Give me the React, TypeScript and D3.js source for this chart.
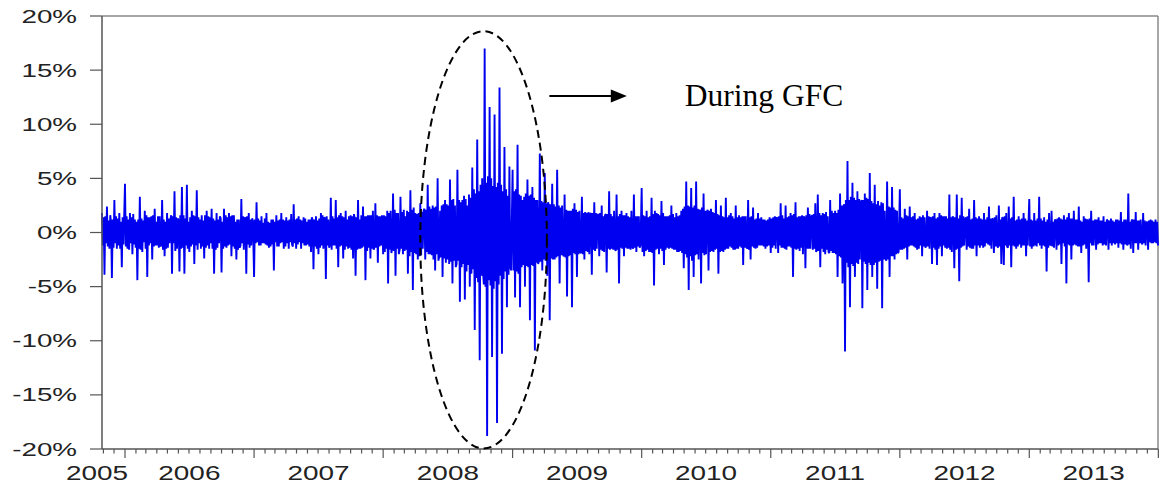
import React, { useEffect, useRef } from 'react';
import * as d3 from 'd3';

// weekly returns (%), one array per calendar year
const ret2005 = [1.8, -3.9, 2.4, -1.5, -4.2, 3.0, -1.5, 1.8, -3.2];
const ret2006 = [4.5, -1.5, 1.8, -2.0, 1.2, -4.4, 3.3, -1.8, 2.0, -4.1, 1.4, -2.5, 2.2, -1.2, 1.5, 3.0, -2.2, 1.8, -1.0, -3.8,
  3.8, -1.5, -3.6, 4.2, -3.8, 4.4, -1.8, 2.0, -2.9, 3.9, -1.0, 1.6, -2.4, 2.0, -1.5, 2.2, -3.8, 1.8, -1.0, -3.7,
  2.2, -1.4, 1.8, -2.2, 1.6, -2.5, 1.2, 3.1, -1.6, -3.8, 1.8, -1.2];
const ret2007 = [-4.1, 2.8, -1.2, 1.5, -1.0, 1.8, -1.4, 1.2, -3.5, 1.6, -1.3, 1.8, -1.5, 1.4, -1.5, 1.7, 2.6, -1.5, 1.5, -1.5,
  1.4, -1.2, 1.2, -1.8, -3.4, 1.5, -2.0, 1.8, -1.5, -4.3, 1.2, 3.2, -1.2, 3.0, -3.2, 1.8, -2.4, 2.0, -1.5, 1.6,
  -2.4, -4.0, 3.0, -1.5, 2.4, -4.4, 1.6, -2.4, 2.0, 2.7, -2.8, 1.5];
const ret2008 = [-2.0, 1.5, -4.7, 2.0, 3.6, -4.0, 1.8, 3.3, -2.0, 1.5, -3.8, 3.9, -5.3, 1.8, -2.5, 2.7, -1.5, -2.5, 4.4, -2.0,
  2.5, -3.5, 5.0, 2.0, -4.1, 3.0, -2.5, 4.9, -4.7, 2.5, 5.8, -6.4, 3.0, -6.2, 2.5, -5.0, 6.0, -9.0, 8.6, -11.8,
  5.0, 17.0, -18.8, 11.6, -11.5, 10.9, -17.6, 13.4, -11.2, 7.9, -6.9, 6.1];
const ret2009 = [5.8, -6.0, 8.1, -6.9, 3.0, -5.0, 4.9, -8.1, 4.2, -10.9, 3.0, 7.3, -3.5, 5.5, -4.0, -8.1, 4.5, -2.5, 5.8, -4.7,
  2.5, 3.5, -5.9, 2.0, -6.9, 2.7, -4.1, 2.0, 3.3, -2.5, 1.8, -2.0, -3.9, 2.8, -1.5, -2.2, 2.5, -1.8, -3.7, 3.8,
  -1.5, 2.0, 3.5, -4.7, 2.0, -2.2, 1.8, -1.5, 2.0, 3.5, -1.8, 1.5];
const ret2010 = [4.1, -2.2, 2.0, -1.8, 3.2, -4.9, 1.8, -2.0, 2.9, -3.0, 1.5, -1.5, 2.5, -1.6, 1.8, -1.8, 2.0, -3.3, 4.7, -5.3,
  4.1, -4.1, 4.7, -2.5, -4.7, 3.6, -2.0, -3.5, 2.2, -1.8, 3.0, -3.8, 2.5, -1.8, 3.2, -1.5, 1.8, -1.6, 2.5, -1.5,
  1.4, -3.0, 1.5, 3.0, -2.5, 2.3, -1.5, 1.8, -1.2, 1.2, -1.5, 1.2];
const ret2011 = [-1.9, 1.4, -1.5, -1.9, 2.7, -1.4, 2.5, -1.3, 1.8, -4.1, 2.8, -1.5, 1.5, -2.0, -3.3, 2.3, -1.5, -1.6, 2.7, 3.5,
  -3.2, 1.8, -2.0, 1.5, 3.0, -1.9, 2.0, -4.1, 3.6, -4.7, -11.0, 6.6, -6.9, 4.6, -4.1, 3.8, -2.5, -7.0, 3.6, -5.3,
  5.5, -4.1, 4.4, -5.2, 2.5, -7.0, 2.0, 4.7, -4.1, 4.2, -2.5, 2.0];
const ret2012 = [4.0, -1.6, 2.2, -2.5, 2.4, -1.2, 1.8, -1.6, 1.5, -2.2, 1.4, 2.0, -1.5, -2.9, 1.8, -3.0, 1.8, -2.2, 1.5, -1.5,
  3.5, -1.8, -3.3, 3.5, -4.5, 3.2, -1.2, -1.6, 2.2, -1.5, 3.0, -2.2, 1.5, -1.2, 1.8, -1.0, 2.4, -1.5, -1.9, 1.6,
  2.5, -2.9, -3.0, 1.8, 2.4, -3.2, 3.3, -1.5, 1.5, -1.4, 1.8, -2.2];
const ret2013 = [3.1, -1.5, 1.8, -1.3, 3.3, -1.5, 1.4, -3.6, 1.8, 2.0, -1.4, -1.6, 1.4, -2.9, 1.6, -4.7, 1.8, -2.5, 2.0, -1.2,
  2.4, -1.9, 1.5, -1.5, -4.6, 2.0, -1.2, -1.6, 1.4, -1.0, 1.5, -1.2, -1.6, 1.3, -1.0, 1.2, -1.4, 1.9, -1.6, 1.2,
  3.6, -1.5, -1.9, 1.9, -1.6, 1.2, 1.8, -1.2, -1.6, 1.2, -1.0, 1.2, -1.2];

// the dense in-between moves that make the solid core band (two per week)
const core2005 = [-1.2, 1.4, 1.5, -1.0, -1.3, 1.1, 1.6, 0.9, 1.2, -1.4, -1.0, 1.5, 1.3, -1.2, -1.5, 1.0, 1.4, -1.1];
const core2006 = [-1.3, 1.5, 1.2, -1.6, -1.0, 1.4, 1.7, -1.1, -1.4, 1.0, 1.2, -1.5, -1.6, 1.3, 1.1, -0.9, -1.5, 1.6, 1.4, -1.2,
  -1.0, 1.5, 1.6, -1.3, -1.2, 1.0, 1.5, -1.4, -1.3, -1.1, -1.6, 1.2, 1.0, -1.5, -1.4, 1.3, 1.2, 1.6, 1.5, -1.0,
  -1.7, 1.4, 1.3, 1.1, 1.6, -1.5, -1.4, 1.6, 1.3, -1.2, -1.5, 1.0, 1.4, -1.3, -1.1, 1.6, 1.5, -1.2, -1.6, 1.4,
  1.2, -1.5, -1.3, 1.1, 1.6, -1.4, -1.2, 1.5, 1.4, -1.0, -1.5, 1.3, 1.1, -1.6, -1.4, 1.2, 1.5, 1.3, 1.0, -1.5,
  -1.3, 1.6, 1.4, -1.2, -1.1, 1.5, 1.6, -1.3, -1.5, 1.0, 1.2, -1.6, -1.4, -1.2, -1.0, 1.5, 1.3, 1.4, 1.5, -1.1,
  -1.4, 1.2, 1.3, 1.1];
const core2007 = [1.2, -1.0, -0.9, 1.3, 1.1, -1.2, -1.0, 0.9, 1.3, -1.1, -1.2, 1.0, 0.9, -1.3, -1.1, 1.2, 1.0, -0.9, -1.3, 1.1,
  1.2, -1.0, -0.9, 1.2, 1.1, -1.3, -1.0, 1.1, 1.2, -0.9, -1.1, -1.3, -1.0, 1.2, 1.3, -1.1, -0.9, 1.2, 1.1, -1.0,
  -1.2, 1.3, 1.0, -1.1, -1.3, 1.2, 1.4, 1.1, 1.2, -1.3, -1.5, 1.1, 1.3, -1.4, -1.2, 1.6, 1.4, 1.3, 1.5, -1.2,
  -1.4, -1.1, -1.6, 1.5, 1.3, -1.2, -1.5, 1.4, 1.6, -1.3, -1.2, 1.5, 1.4, -1.6, -1.3, 1.2, 1.5, -1.4, -1.6, 1.5,
  1.7, 1.3, 1.4, -1.6, -1.5, 1.2, 1.6, -1.4, -1.3, 1.5, 1.5, -1.7, -1.4, 1.6, 1.6, -1.5, -1.6, -1.3, -1.4, 1.6,
  1.5, -1.3, -1.2, 1.6];
const core2008 = [1.6, -1.8, -1.5, 2.0, 1.8, -1.6, -1.9, -1.4, -1.7, 2.1, 1.8, -1.5, -2.0, -1.6, -1.5, 1.9, 2.1, -1.7, -1.6, 2.0,
  1.9, -2.2, -1.8, 2.1, 2.3, -1.9, -2.0, 1.7, 1.8, -2.2, -2.1, 1.9, 2.0, 2.2, 2.1, -1.8, -2.0, 2.4, 2.2, -2.1,
  -2.5, 2.3, 2.4, -2.0, -2.6, -2.2, -2.3, 2.5, 2.6, -2.4, -2.8, 2.6, 2.5, -2.9, -2.7, 3.0, 3.1, -2.6, -3.2, -2.9,
  -2.6, 3.0, 2.8, -3.2, -2.9, 3.4, 3.1, -3.6, -3.0, 3.5, 3.2, -3.8, -3.4, 4.0, 3.6, -4.2, -4.6, 3.8, 4.4, -4.0,
  -3.6, -4.8, -5.0, 4.6, 5.2, -4.4, -4.9, 5.0, 4.3, -5.2, -4.5, 4.2, 4.6, -4.8, -4.0, 4.4, 3.8, -4.3, -3.6, 4.0,
  3.4, -3.9, -3.2, -3.5];
const core2009 = [-3.5, 3.8, 4.0, -3.6, -3.8, 3.5, 3.4, -3.2, -3.0, 3.3, 3.6, -3.1, -3.2, 3.4, 3.5, -3.0, -3.1, 3.2, 3.0, -2.8,
  -2.9, -2.6, -2.7, 2.9, 2.8, -2.5, -2.6, 2.7, 2.8, 2.5, 2.6, -2.4, -2.5, 2.6, 2.4, -2.3, -2.2, 2.5, 2.3, -2.1,
  -2.0, -2.2, -2.3, 2.1, 2.0, -2.2, -2.1, 2.0, 2.2, -1.9, -2.0, 2.1, 1.9, -2.0, -1.8, -1.9, -2.0, 1.8, 1.9, -1.7,
  -1.8, 1.9, 1.7, 1.8, 1.8, -1.6, -1.7, 1.8, 1.6, 1.7, 1.8, -1.6, -1.7, 1.5, 1.6, 1.7, 1.7, -1.5, -1.6, 1.7,
  1.5, -1.6, -1.5, -1.7, -1.6, 1.5, 1.7, -1.4, -1.5, 1.6, 1.6, -1.4, -1.5, 1.5, 1.4, -1.6, -1.3, -1.5, -1.4, 1.5,
  1.5, -1.3, -1.4, -1.2];
const core2010 = [-1.8, 1.6, 1.5, -1.7, -1.6, 1.4, 1.5, -1.8, -1.9, 1.7, 2.0, -1.6, -1.5, 1.7, 1.6, -1.5, -1.7, 1.8, 1.5, -1.6,
  -1.4, 1.5, 1.6, -1.4, -1.5, 1.7, 1.4, -1.6, -1.8, 1.5, 1.6, -1.7, -1.9, 2.2, 2.4, -2.0, -2.3, 2.5, 2.4, -2.2,
  -2.6, 2.3, 2.5, -2.1, -2.0, 2.2, 2.1, 2.0, 2.3, -1.9, -2.1, 2.0, 1.9, 2.1, 2.0, -1.8, -1.7, 1.9, 1.8, -1.6,
  -1.5, 1.7, 1.6, -1.8, -1.7, 1.5, 1.4, -1.6, -1.5, 1.4, 1.6, -1.3, -1.4, 1.5, 1.3, -1.6, -1.5, 1.4, 1.6, -1.3,
  -1.4, 1.5, 1.5, -1.4, -1.3, -1.5, -1.6, 1.4, 1.5, -1.3, -1.4, 1.2, 1.3, -1.4, -1.2, 1.3, 1.4, -1.2, -1.3, 1.2,
  1.1, -1.3, -1.2, 1.4];
const core2011 = [1.3, -1.4, -1.2, 1.5, 1.4, 1.3, 1.5, -1.2, -1.4, 1.6, 1.3, -1.5, -1.6, 1.4, 1.5, -1.3, -1.4, 1.6, 1.7, -1.5,
  -1.6, 1.4, 1.5, -1.7, -1.4, 1.6, 1.5, 1.3, 1.6, -1.5, -1.5, 1.7, 1.4, 1.6, 1.7, -1.5, -1.8, -1.6, -1.7, 1.8,
  1.6, -1.5, -1.8, 1.7, 1.9, -1.6, -1.8, -1.9, -1.7, 2.0, 1.8, -1.9, -2.0, 1.8, 2.1, -2.2, -2.3, 2.5, 2.4, 2.6,
  3.0, -2.8, -3.2, 3.0, 3.3, -2.9, -3.1, 3.2, 3.0, -2.8, -2.9, 3.1, 2.8, 3.0, 3.0, -2.7, -2.9, 3.2, 3.1, -2.8,
  -3.0, 2.9, 2.7, -3.0, -2.8, 2.6, 2.9, -2.7, -2.6, 2.8, 2.7, -2.5, -2.4, -2.6, -2.5, 2.4, 2.3, -2.2, -2.2, 2.3,
  2.1, -2.0, -1.9, -1.8];
const core2012 = [-1.6, 1.4, 1.3, -1.5, -1.4, 1.6, 1.5, -1.3, -1.2, 1.4, 1.5, -1.3, -1.4, 1.2, 1.3, -1.5, -1.2, 1.4, 1.6, -1.3,
  -1.4, -1.2, -1.3, 1.5, 1.4, 1.3, 1.5, -1.4, -1.6, 1.3, 1.4, -1.5, -1.3, 1.6, 1.5, -1.2, -1.4, 1.5, 1.3, -1.4,
  -1.6, 1.4, 1.5, 1.3, 1.4, -1.6, -1.5, 1.3, 1.6, -1.4, -1.3, 1.5, 1.2, 1.4, 1.5, -1.3, -1.4, 1.2, 1.3, -1.5,
  -1.2, 1.4, 1.3, -1.2, -1.4, 1.3, 1.2, -1.4, -1.3, 1.2, 1.4, -1.1, -1.2, 1.3, 1.3, 1.2, 1.4, -1.3, -1.2, -1.4,
  -1.3, 1.2, 1.4, 1.3, 1.5, -1.2, -1.3, -1.4, -1.2, 1.3, 1.4, -1.2, -1.3, 1.1, 1.2, -1.3, -1.1, 1.2, 1.3, -1.2,
  -1.2, 1.3, 1.1, -1.2];
const core2013 = [-1.3, 1.2, 1.1, -1.3, -1.2, 1.1, 1.3, -1.0, -1.2, 1.3, 1.1, -1.2, -1.3, 1.0, 1.2, -1.4, -1.1, -1.2, -1.3, 1.0,
  1.2, 1.1, 1.3, -1.2, -1.1, 1.3, 1.2, -1.0, -1.3, 1.2, 1.4, -1.1, -1.2, 1.3, 1.3, -1.2, -1.1, 1.2, 1.2, -1.3,
  -1.3, 1.1, 1.0, -1.2, -1.1, 1.3, 1.2, 1.1, 1.3, -1.0, -1.2, 1.1, 1.0, 1.2, 1.2, -1.1, -1.0, 1.1, 1.1, -1.2,
  -1.1, 1.0, 1.2, 1.1, 1.1, -1.0, -1.2, 1.1, 1.0, -1.1, -1.0, 1.2, 1.1, -1.0, -1.1, 1.0, 1.2, -1.1, -1.0, -1.2,
  -1.1, 1.0, 1.1, 1.2, 1.2, -1.0, -1.0, 1.1, 1.1, -1.0, -0.9, -1.1, -1.0, 1.1, 0.9, 1.0, 1.1, -0.9, -1.0, 1.1,
  1.0, -0.9, -1.0, 1.0];

const yearStarts = [new Date(2005, 9, 28), new Date(2006, 0, 1), new Date(2007, 0, 1), new Date(2008, 0, 1),
  new Date(2009, 0, 1), new Date(2010, 0, 1), new Date(2011, 0, 1), new Date(2012, 0, 1), new Date(2013, 0, 1)];
const yearValues = [ret2005, ret2006, ret2007, ret2008, ret2009, ret2010, ret2011, ret2012, ret2013];
const yearCore = [core2005, core2006, core2007, core2008, core2009, core2010, core2011, core2012, core2013];

const yTicks = [20, 15, 10, 5, 0, -5, -10, -15, -20];
const xLabels = ['2005', '2006', '2007', '2008', '2009', '2010', '2011', '2012', '2013'];
const xLabelDates = [new Date(2005, 9, 14), new Date(2006, 6, 2), new Date(2007, 6, 2), new Date(2008, 6, 2),
  new Date(2009, 6, 2), new Date(2010, 6, 2), new Date(2011, 6, 2), new Date(2012, 6, 2), new Date(2013, 6, 2)];

// annotation, in data units
const gfcDates = [new Date(2008, 3, 15), new Date(2009, 3, 8)];
const gfcRange = [-19.95, 18.6];
const arrowDates = [new Date(2009, 3, 15), new Date(2009, 10, 20)];
const arrowLevel = 12.6;
const annotationText = 'During GFC';

const DAY = 86400000;

export default function App() {
  const ref = useRef<SVGSVGElement | null>(null);

  useEffect(() => {
    document.body.style.margin = '0';
    const width = 1163;
    const height = 489;
    const m = { left: 102, right: 5, top: 16, bottom: 40 };

    const svg = d3.select(ref.current);
    svg.selectAll('*').remove();

    const x = d3.scaleTime()
      .domain([new Date(2005, 9, 28), new Date(2013, 11, 31)])
      .range([m.left, width - m.right]);
    const y = d3.scaleLinear().domain([-20, 20]).range([height - m.bottom, m.top]);

    // weekly value, then the two in-between readings of that week
    const points: { date: Date; value: number }[] = [];
    yearValues.forEach((vals, k) => {
      const s = yearStarts[k].getTime();
      const core = yearCore[k];
      vals.forEach((v, i) => {
        points.push({ date: new Date(s + 7 * i * DAY), value: v });
        if (core[2 * i] !== undefined) {
          points.push({ date: new Date(s + (7 * i + 2.33) * DAY), value: core[2 * i] });
          points.push({ date: new Date(s + (7 * i + 4.67) * DAY), value: core[2 * i + 1] });
        }
      });
    });

    const x0 = m.left, x1 = width - m.right, y0 = m.top, y1 = height - m.bottom;

    // frame (top & right light)
    svg.append('line').attr('x1', x0).attr('x2', x1).attr('y1', y0).attr('y2', y0)
      .attr('stroke', '#8a8a8a').attr('stroke-width', 1.5);
    svg.append('line').attr('x1', x1).attr('x2', x1).attr('y1', y0).attr('y2', y1)
      .attr('stroke', '#8a8a8a').attr('stroke-width', 1.5);

    // series
    const line = d3.line<{ date: Date; value: number }>()
      .x(d => x(d.date))
      .y(d => y(d.value));
    svg.append('path')
      .datum(points)
      .attr('d', line)
      .attr('fill', 'none')
      .attr('stroke', '#0000f0')
      .attr('stroke-width', 1.9)
      .attr('stroke-linejoin', 'bevel');

    // y axis
    svg.append('line').attr('x1', x0).attr('x2', x0).attr('y1', y0).attr('y2', y1)
      .attr('stroke', '#555').attr('stroke-width', 1.5);
    const yg = svg.append('g');
    yTicks.forEach(t => {
      yg.append('line').attr('x1', x0 - 12).attr('x2', x0).attr('y1', y(t)).attr('y2', y(t))
        .attr('stroke', '#555').attr('stroke-width', 1.2);
      yg.append('text')
        .attr('transform', `translate(${x0 - 25},${y(t) + 6.5}) scale(1.5,1)`)
        .attr('text-anchor', 'end')
        .attr('font-family', 'Liberation Sans, Arial, sans-serif')
        .attr('font-size', 18.5)
        .attr('fill', '#222')
        .text(`${t}%`);
    });

    // x axis
    svg.append('line').attr('x1', x0).attr('x2', x1).attr('y1', y1).attr('y2', y1)
      .attr('stroke', '#555').attr('stroke-width', 1.5);
    const xg = svg.append('g');
    d3.timeMonth.range(new Date(2005, 10, 1), new Date(2014, 0, 2)).forEach(d => {
      const major = d.getMonth() === 0;
      xg.append('line').attr('x1', x(d)).attr('x2', x(d)).attr('y1', y1).attr('y2', y1 + (major ? 9 : 4.5))
        .attr('stroke', '#555').attr('stroke-width', 1.2);
    });
    xLabels.forEach((lab, i) => {
      xg.append('text')
        .attr('transform', `translate(${x(xLabelDates[i])},${y1 + 31}) scale(1.33,1)`)
        .attr('text-anchor', 'middle')
        .attr('font-family', 'Liberation Sans, Arial, sans-serif')
        .attr('font-size', 21)
        .attr('fill', '#222')
        .text(lab);
    });

    // dashed ellipse around the crisis
    const ex0 = x(gfcDates[0]), ex1 = x(gfcDates[1]);
    const ey0 = y(gfcRange[1]), ey1 = y(gfcRange[0]);
    svg.append('ellipse')
      .attr('cx', (ex0 + ex1) / 2).attr('cy', (ey0 + ey1) / 2)
      .attr('rx', (ex1 - ex0) / 2).attr('ry', (ey1 - ey0) / 2)
      .attr('fill', 'none').attr('stroke', '#000').attr('stroke-width', 2)
      .attr('stroke-dasharray', '8 5');

    // arrow + text
    const ax0 = x(arrowDates[0]), ax1 = x(arrowDates[1]), ay = y(arrowLevel);
    svg.append('line').attr('x1', ax0).attr('x2', ax1 - 14).attr('y1', ay).attr('y2', ay)
      .attr('stroke', '#000').attr('stroke-width', 2);
    svg.append('path')
      .attr('d', `M${ax1},${ay} L${ax1 - 16},${ay - 6.5} L${ax1 - 16},${ay + 6.5} Z`)
      .attr('fill', '#000');
    svg.append('text')
      .attr('x', ax1 + 58).attr('y', ay + 9.5)
      .attr('font-family', 'Liberation Serif, Times New Roman, serif')
      .attr('font-size', 31.5)
      .attr('fill', '#000')
      .text(annotationText);
  }, []);

  return (
    <svg ref={ref} width={1163} height={489}
      style={{ display: 'block', position: 'absolute', left: 0, top: 0, background: '#fff' }} />
  );
}
